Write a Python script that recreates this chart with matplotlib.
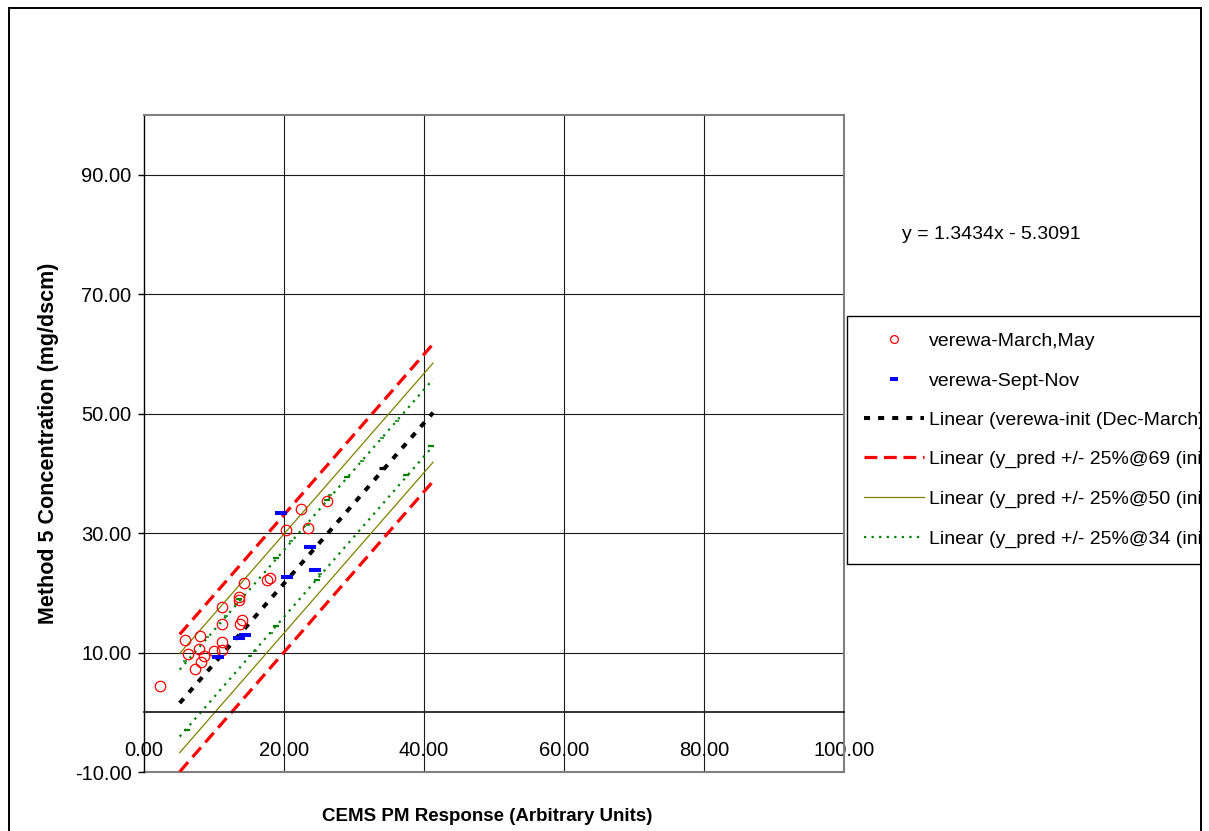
import numpy as np
import matplotlib
matplotlib.use('Agg')
import matplotlib.pyplot as plt
from matplotlib.lines import Line2D
from matplotlib.patches import Rectangle
from matplotlib.ticker import FormatStrFormatter

plt.rcParams['font.family'] = ['Liberation Sans', 'DejaVu Sans']

# verewa-March,May samples
march_x = [2.3, 5.9, 8.0, 6.3, 7.9, 8.5, 8.1, 7.3, 10.0, 11.1, 11.2, 11.1, 11.1,
           13.5, 13.5, 13.95, 13.7, 14.3, 17.5, 18.0, 20.3, 23.4, 22.4, 26.1]
march_y = [4.4, 12.05, 12.7, 9.7, 10.6, 9.5, 8.4, 7.3, 10.2, 11.8, 10.5, 14.7, 17.55,
           19.3, 18.8, 15.5, 14.8, 21.7, 22.2, 22.4, 30.5, 30.8, 34.0, 35.4]

# verewa-Sept-Nov samples
sept_x = [19.6, 23.7, 24.4, 20.4, 13.6, 14.4, 10.6]
sept_y = [33.3, 27.6, 23.9, 22.6, 12.45, 12.9, 9.3]

# y_pred +/- band points (green) and one init point (black)
band_big_x = [41.0, 37.4, 28.95, 26.2, 18.8, 24.7, 13.6, 6.1, 18.86]
band_big_y = [44.5, 39.7, 39.4, 35.5, 25.8, 22.2, 19.0, -2.9, 14.5]
band_small_x = [31.1, 33.95, 36.1, 26.6, 21.0, 25.2, 23.4, 15.9, 11.7, 13.1, 8.95, 5.9, 18.1, 15.2]
band_small_y = [42.0, 45.9, 48.8, 36.3, 28.7, 23.1, 31.4, 10.2, 16.2, 18.2, 12.55, 8.6, 13.3, 9.5]
init_x = [33.95]
init_y = [40.9]

# trendline y = 1.3434x - 5.3091 and the +/- offsets of the bands
slope = 1.3434
intercept = -5.3091
trend_x = np.array([5.1, 41.3])
offset_69 = 11.5
offset_50 = 8.3
offset_34 = 5.6

xticks = [0, 20, 40, 60, 80, 100]
yticks = [-10, 10, 30, 50, 70, 90]

fig = plt.figure(figsize=(12.09, 8.31), dpi=100)
ax = fig.add_axes([144/1209, 59/831, 700/1209, 657/831])
ax.set_xlim(0, 100)
ax.set_ylim(-10, 100)

for xv in xticks[1:-1]:
    ax.axvline(xv, color='#1a1a1a', lw=0.8, zorder=0)
for yv in yticks[1:]:
    ax.axhline(yv, color='#1a1a1a', lw=0.8, zorder=0)
ax.axhline(-10, color='#808080', lw=1.5, clip_on=False, zorder=0)

trend_y = slope * trend_x + intercept

ax.plot(trend_x, trend_y, color='black', lw=2.9, dashes=(1.5, 2.0),
        label='Linear (verewa-init (Dec-March))')
ax.plot(trend_x, trend_y + offset_69, color='red', lw=2.3, dashes=(4.0, 2.1),
        label='Linear (y_pred +/- 25%@69 (init))')
ax.plot(trend_x, trend_y - offset_69, color='red', lw=2.3, dashes=(4.0, 2.1))
ax.plot(trend_x, trend_y + offset_50, color='#808000', lw=0.9,
        label='Linear (y_pred +/- 25%@50 (init))')
ax.plot(trend_x, trend_y - offset_50, color='#808000', lw=0.9)
ax.plot(trend_x, trend_y + offset_34, color='#008000', lw=1.6, dashes=(1, 2.4),
        label='Linear (y_pred +/- 25%@34 (init))')
ax.plot(trend_x, trend_y - offset_34, color='#008000', lw=1.6, dashes=(1, 2.4))

ax.plot(band_big_x, band_big_y, ls='none', marker='_', ms=5, mew=1.6, color='#008000')
ax.plot(band_small_x, band_small_y, ls='none', marker='_', ms=3.2, mew=1.1, color='#008000')
ax.plot(init_x, init_y, ls='none', marker='_', ms=4.5, mew=2.3, color='black')

ax.plot(march_x, march_y, ls='none', marker='o', ms=7.5, mfc='none', mec='red',
        mew=0.9, label='verewa-March,May')
ax.plot(sept_x, sept_y, ls='none', marker='_', ms=8.6, mew=2.9, color='#0000ff',
        label='verewa-Sept-Nov')

ax.spines['left'].set_color('black')
ax.spines['left'].set_linewidth(1.0)
ax.spines['bottom'].set_position(('data', 0))
ax.spines['bottom'].set_color('#222222')
ax.spines['bottom'].set_linewidth(1.3)
for s in ['top', 'right']:
    ax.spines[s].set_color('#808080')
    ax.spines[s].set_linewidth(1.5)

ax.set_xticks(xticks)
ax.set_yticks(yticks)
ax.xaxis.set_major_formatter(FormatStrFormatter('%.2f'))
ax.yaxis.set_major_formatter(FormatStrFormatter('%.2f'))
ax.tick_params(axis='x', length=0, pad=20.5, labelsize=14.5)
ax.tick_params(axis='y', length=4.5, width=1, direction='out', pad=4.5, labelsize=14.5)

ax.set_xlabel('CEMS PM Response (Arbitrary Units)', fontsize=13.5, fontweight='bold')
ax.xaxis.set_label_coords(0.49, -0.067)
ax.xaxis.label.set_va('center')
ax.set_ylabel('Method 5 Concentration (mg/dscm)', fontsize=15.5, fontweight='bold')
ax.yaxis.set_label_coords(-0.137, 0.5)
ax.yaxis.label.set_va('center')

ax.text(121.1, 80, 'y = 1.3434x - 5.3091', fontsize=14, ha='center', va='center',
        clip_on=False)

h, l = ax.get_legend_handles_labels()
order = [4, 5, 0, 1, 2, 3]
leg = ax.legend([h[i] for i in order], [l[i] for i in order],
                loc='upper left', bbox_to_anchor=(847/1209, 1 - 316/831),
                bbox_transform=fig.transFigure, borderaxespad=0, fontsize=14,
                frameon=True, fancybox=False, handlelength=3.1, handletextpad=0.26,
                borderpad=0.85, labelspacing=1.12, markerscale=0.75)
leg.get_frame().set_edgecolor('black')
leg.get_frame().set_linewidth(1.0)
leg.get_frame().set_alpha(1)

# chart border, legend cut at the right edge
fig.add_artist(Rectangle((1202/1209, 0), 7/1209, 1, transform=fig.transFigure,
                         facecolor='white', edgecolor='none', zorder=5))
fig.add_artist(Line2D([8.5/1209, 8.5/1209], [0, 1 - 7.5/831], color='black', lw=1.4, zorder=6))
fig.add_artist(Line2D([8.5/1209, 1201/1209], [1 - 7.5/831, 1 - 7.5/831], color='black', lw=1.4, zorder=6))
fig.add_artist(Line2D([1201/1209, 1201/1209], [0, 1 - 7.5/831], color='black', lw=1.4, zorder=6))

fig.savefig('out.png', dpi=100)
